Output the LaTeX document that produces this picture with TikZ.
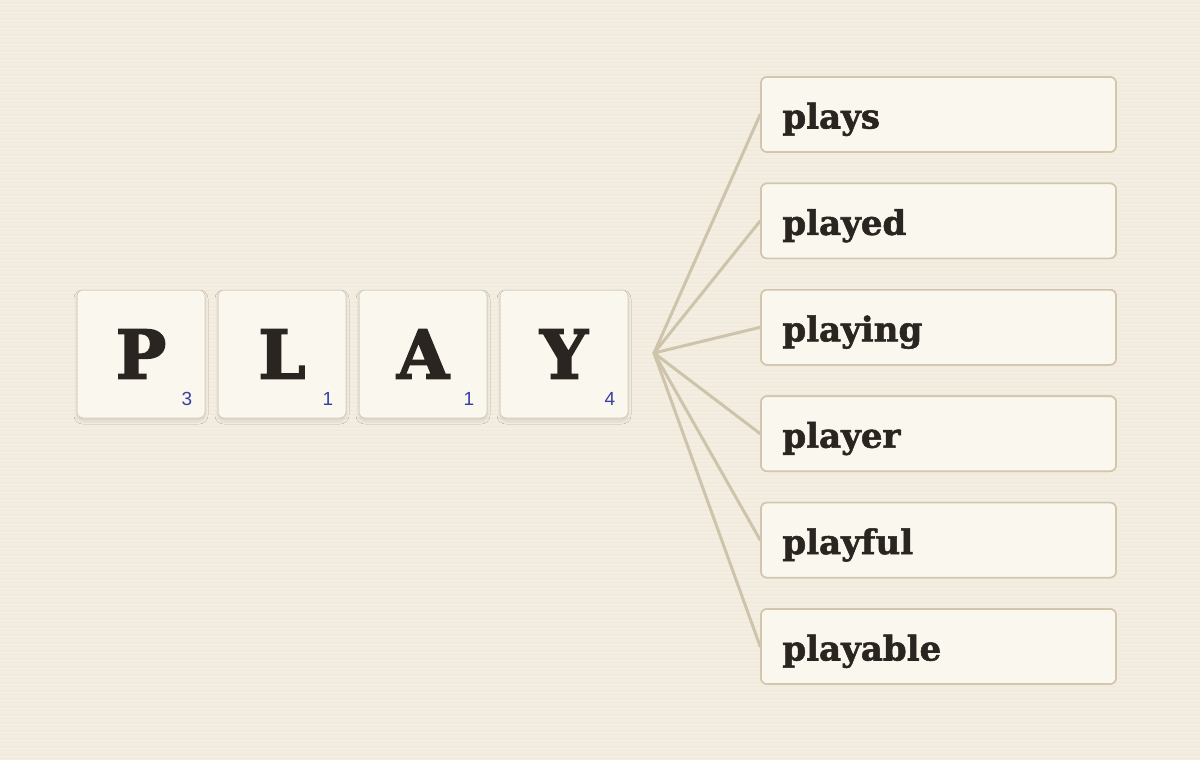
\documentclass[tikz,border=0pt]{standalone}
\usepackage{fontspec}
\newfontfamily\slab{DejaVu Serif Bold}[FakeBold=1.6]
\newfontfamily\slabtile{DejaVu Serif Bold}[FakeBold=2.6]
\newfontfamily\numfont{Liberation Sans}
\usetikzlibrary{shadows.blur}
\definecolor{bg}{HTML}{F4EEE2}
\definecolor{stripe}{HTML}{EDE6D8}
\definecolor{tilefill}{HTML}{FAF7EE}
\definecolor{tileline}{HTML}{D9D0BF}
\definecolor{boxline}{HTML}{D2C7AE}
\definecolor{conn}{HTML}{CEC4AB}
\definecolor{ink}{HTML}{2A2520}
\definecolor{numblue}{HTML}{3A3DA6}
\tikzset{
  tile/.style={draw=tileline, line width=1pt, fill=tilefill, rounded corners=6pt,
    minimum width=128pt, minimum height=128pt, inner sep=0pt,
    blur shadow={shadow xshift=0pt, shadow yshift=-3pt, shadow blur steps=8, shadow opacity=12, shadow blur radius=3pt}},
  letter/.style={inner sep=0pt, font=\slabtile\fontsize{67}{67}\selectfont, text=ink},
  score/.style={inner sep=0pt, anchor=base east, font=\numfont\fontsize{19}{19}\selectfont, text=numblue},
  wordbox/.style={draw=boxline, line width=1.6pt, fill=tilefill, rounded corners=6pt,
    minimum width=355pt, minimum height=75pt, inner sep=0pt},
  word/.style={inner sep=0pt, anchor=base west, font=\slab\fontsize{34}{34}\selectfont, text=ink},
  connector/.style={draw=conn, line width=3pt, line cap=round}
}
\begin{document}
\begin{tikzpicture}[x=1pt,y=-1pt]
\useasboundingbox (0,0) rectangle (1200,760);
\fill[bg] (0,0) rectangle (1200,760);
\foreach \i in {0,...,189} {
  \draw[stripe, line width=0.8pt, opacity=0.6] (0,\i*4+2) -- (1200,\i*4+2);
}
% hub
\coordinate (hub) at (654,353);
% word boxes
\foreach \k in {0,...,5} {
  \node[wordbox] (b\k) at (938.5,{114.5+106.4*\k}) {};
  \draw[connector] (hub) -- (b\k.west);
}
\foreach \w [count=\k from 0] in {plays,played,playing,player,playful,playable} {
  \node[wordbox] (bb\k) at (938.5,{114.5+106.4*\k}) {};
  \node[word] (w\k) at ([xshift=22pt,yshift=-14pt]bb\k.west) {\w};
}
% tiles
\foreach \L/\n [count=\k from 0] in {P/3,L/1,A/1,Y/4} {
  \node[tile] (t\k) at ({141+141*\k},354) {};
  \node[letter] (l\k) at (t\k.center) {\L};
  \node[score] (s\k) at ([xshift=-13pt,yshift=13pt]t\k.south east) {\n};
}
\end{tikzpicture}
\end{document}
